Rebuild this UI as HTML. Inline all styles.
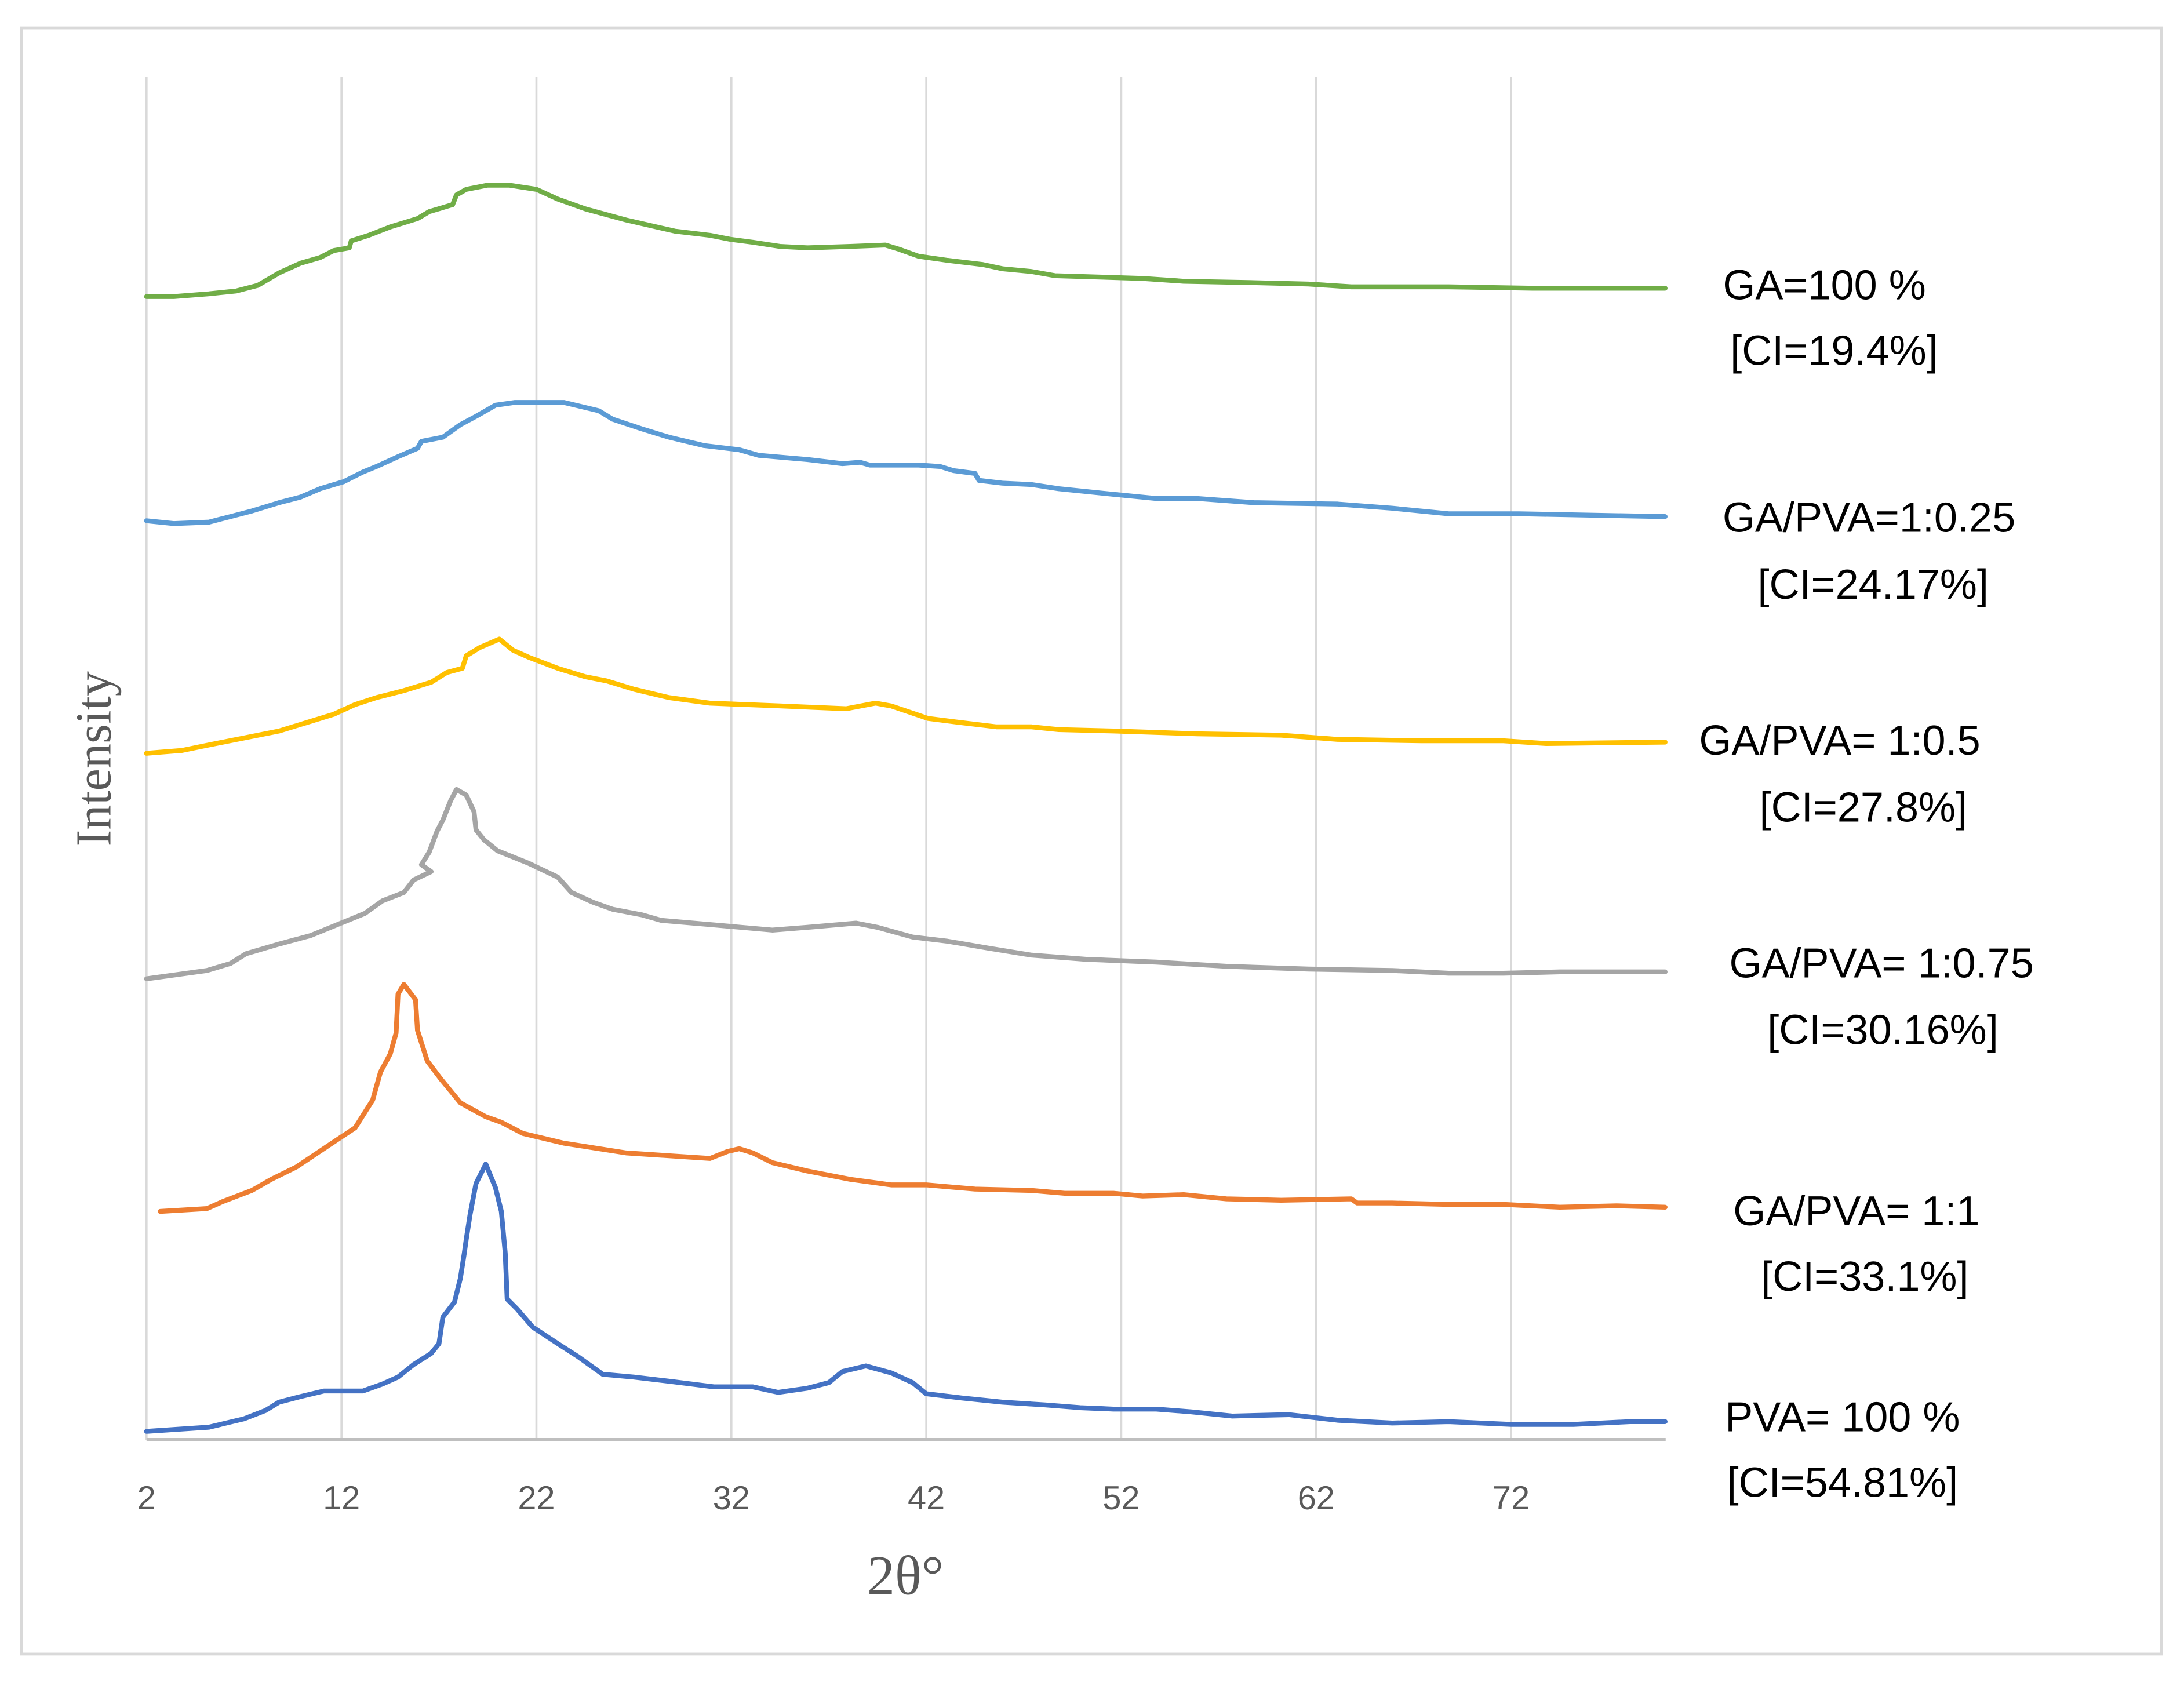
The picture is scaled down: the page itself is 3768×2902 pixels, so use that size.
<!DOCTYPE html>
<html><head><meta charset="utf-8"><style>
html,body{margin:0;padding:0;background:#fff;}
svg{display:block;}
</style></head><body>
<svg id="chart" width="3768" height="2902" viewBox="0 0 1568 1208" xmlns="http://www.w3.org/2000/svg">
<rect x="15" y="20" width="1537" height="1168" fill="#fff" stroke="#d9d9d9" stroke-width="2"/>
<g id="grid"></g>
<g id="series"></g>
<g id="ticks" font-family="Liberation Sans, sans-serif" font-size="24" fill="#595959"></g>
<text x="650" y="1145" text-anchor="middle" font-family="Liberation Serif, serif" font-size="40" fill="#595959">2θ°</text>
<text transform="translate(79,545) rotate(-90)" text-anchor="middle" font-family="Liberation Serif, serif" font-size="36" fill="#595959">Intensity</text>
<g font-family="Liberation Sans, sans-serif" font-size="30" fill="#000" text-anchor="middle">
<text x="1310" y="215">GA=100 %</text>
<text x="1317" y="262">[CI=19.4%]</text>
<text x="1342" y="382">GA/PVA=1:0.25</text>
<text x="1345" y="430">[CI=24.17%]</text>
<text x="1321" y="542">GA/PVA= 1:0.5</text>
<text x="1338" y="590">[CI=27.8%]</text>
<text x="1351" y="702">GA/PVA= 1:0.75</text>
<text x="1352" y="750">[CI=30.16%]</text>
<text x="1333" y="880">GA/PVA= 1:1</text>
<text x="1339" y="927">[CI=33.1%]</text>
<text x="1323" y="1028">PVA= 100 %</text>
<text x="1323" y="1075">[CI=54.81%]</text>
</g>
</svg>
<script>
const xTicks = [2,12,22,32,42,52,62,72];
const pvaX = [2.0,5.2,7.0,8.1,8.8,9.9,11.1,13.1,14.1,14.9,15.7,16.6,17.0,17.2,17.8,18.1,18.3,18.4,18.6,18.9,19.4,19.9,20.2,20.4,20.5,21.0,21.8,23.1,24.1,25.4,27.0,28.8,31.1,33.1,34.4,35.9,37.0,37.7,38.9,40.2,41.3,42.0,43.8,45.9,48.1,49.9,51.6,53.8,55.6,57.7,60.6,63.1,65.9,68.8,72.0,75.2,78.1,79.9];
const pvaY = [6,9,15,21,27,31,35,35,40,45,54,62,69,88,99,116,134,144,162,184,198,181,164,134,101,94,81,69,60,47,45,42,38,38,34,37,41,49,53,48,41,33,30,27,25,23,22,22,20,17,18,14,12,13,11,11,13,13];
const r11X = [2.7,5.1,5.9,7.4,8.4,9.7,11.3,12.7,13.6,14.0,14.5,14.8,14.9,15.2,15.8,15.9,16.4,17.1,18.1,19.4,20.2,21.3,23.4,26.6,30.9,31.8,32.4,33.1,34.1,35.9,38.1,40.2,42.0,44.5,47.4,49.1,51.6,53.1,55.2,57.4,60.2,63.8,64.1,65.9,68.8,71.6,74.5,77.4,79.9];
const r11Y = [164,166,171,179,187,196,211,224,244,264,277,292,320,327,316,294,272,259,242,232,228,220,213,206,202,207,209,206,199,193,187,183,183,180,179,177,177,175,176,173,172,173,170,170,169,169,167,168,167];
const r075X = [2.0,5.1,6.3,7.1,8.8,10.4,11.8,13.2,14.1,15.2,15.7,16.6,16.1,16.5,16.9,17.2,17.6,17.9,18.4,18.8,18.9,19.3,20.0,21.6,23.1,23.8,24.9,25.9,27.4,28.4,30.9,34.1,35.9,38.4,39.5,41.3,43.1,45.2,47.4,50.2,53.8,57.4,61.6,65.9,68.8,71.6,74.5,79.9];
const r075Y = [331,337,342,349,356,362,370,378,387,393,402,408,413,422,437,445,459,467,463,451,438,431,423,414,404,393,386,381,377,373,370,366,368,371,368,361,358,353,348,345,343,340,338,337,335,335,336,336];
const r05X = [2.0,3.8,5.2,7.0,8.8,10.2,11.6,12.7,13.8,15.2,16.6,17.4,18.2,18.4,19.1,20.1,20.8,21.6,23.1,24.5,25.6,27.0,28.8,30.9,34.5,37.9,39.4,40.2,42.1,43.8,45.6,47.4,48.8,51.6,55.9,60.2,63.1,67.4,71.6,73.8,79.9];
const r05Y = [493,495,499,504,509,515,521,528,533,538,544,551,554,563,569,575,567,562,554,548,545,539,533,529,527,525,529,527,518,515,512,512,510,509,507,506,503,502,502,500,501];
const r025X = [2.0,3.4,5.2,6.3,7.4,8.8,9.9,10.9,12.1,13.1,13.8,14.9,15.9,16.1,17.2,18.1,18.9,19.9,20.9,23.4,25.2,25.9,27.4,28.8,30.6,32.4,33.4,35.9,37.7,38.6,39.1,41.6,42.7,43.4,44.5,44.7,45.9,47.4,48.8,51.6,53.8,55.9,58.8,63.1,65.9,68.8,72.4,79.9];
const r025Y = [660,658,659,663,667,673,677,683,688,695,699,706,712,717,720,729,735,743,745,745,739,733,726,720,714,711,707,704,701,702,700,700,699,696,694,689,687,686,683,679,676,676,673,672,669,665,665,663];
const gaX = [2.0,3.4,5.2,6.6,7.7,8.8,9.9,10.9,11.6,12.4,12.5,13.4,14.5,15.9,16.5,17.7,17.9,18.4,19.5,20.6,22.0,23.1,24.5,26.6,29.1,30.9,32.0,33.1,34.5,35.9,38.1,39.9,40.6,41.6,43.1,44.9,45.9,47.4,48.6,50.9,53.1,55.2,58.8,61.6,63.8,68.8,73.1,79.9];
const gaY = [821,821,823,825,829,838,845,849,854,856,861,865,871,877,882,887,894,898,901,901,898,891,884,876,868,865,862,860,857,856,857,858,855,850,847,844,841,839,836,835,834,832,831,830,828,828,827,827];

const NS = 'http://www.w3.org/2000/svg';
const X0 = 2, PX0 = 105, PXU = 14, AXIS_Y = 1034;
function xPx(t){ return PX0 + (t - X0) * PXU; }
function yPx(v){ return AXIS_Y - v; }

const grid = document.getElementById('grid');
xTicks.forEach(function(t){
  const l = document.createElementNS(NS,'line');
  
  
  l.setAttribute('x1', xPx(t)); l.setAttribute('x2', xPx(t));
  l.setAttribute('y1', 55); l.setAttribute('y2', AXIS_Y);
  l.setAttribute('stroke', '#d9d9d9'); l.setAttribute('stroke-width', '1.5');
  grid.appendChild(l);
});
const ax = document.createElementNS(NS,'line');


ax.setAttribute('x1', 105); ax.setAttribute('x2', 1196);
ax.setAttribute('y1', AXIS_Y); ax.setAttribute('y2', AXIS_Y);
ax.setAttribute('stroke', '#bfbfbf'); ax.setAttribute('stroke-width', '2.5');
grid.appendChild(ax);

const ticks = document.getElementById('ticks');
xTicks.forEach(function(t){
  const tx = document.createElementNS(NS,'text');
  
  
  tx.setAttribute('x', xPx(t)); tx.setAttribute('y', 1084);
  tx.setAttribute('text-anchor', 'middle');
  tx.textContent = t;
  ticks.appendChild(tx);
});

const seriesG = document.getElementById('series');
function drawSeries(xs, ys, color, name){
  const p = document.createElementNS(NS,'polyline');
  
  
  p.setAttribute('points', xs.map(function(t,i){ return xPx(t).toFixed(1) + ',' + yPx(ys[i]).toFixed(1); }).join(' '));
  p.setAttribute('fill', 'none');
  p.setAttribute('stroke', color);
  p.setAttribute('stroke-width', '3.5');
  p.setAttribute('stroke-linejoin', 'round');
  p.setAttribute('stroke-linecap', 'round');
  seriesG.appendChild(p);
}
drawSeries(gaX, gaY, '#70AD47', 'series-ga-100');
drawSeries(r025X, r025Y, '#5B9BD5', 'series-ga-pva-1-0-25');
drawSeries(r05X, r05Y, '#FFC000', 'series-ga-pva-1-0-5');
drawSeries(r075X, r075Y, '#A5A5A5', 'series-ga-pva-1-0-75');
drawSeries(r11X, r11Y, '#ED7D31', 'series-ga-pva-1-1');
drawSeries(pvaX, pvaY, '#4472C4', 'series-pva-100');
</script>
</body></html>
